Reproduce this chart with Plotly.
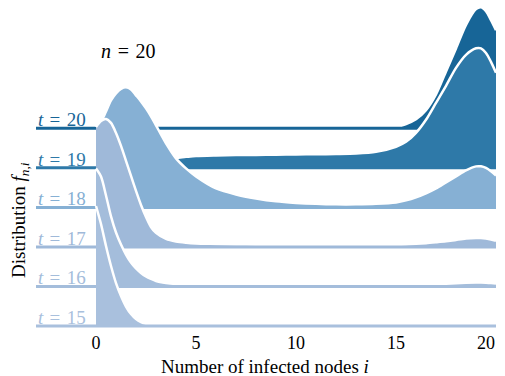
import plotly.graph_objects as go

# Number of infected nodes i (sampling grid)
i_grid = [0, 0.25, 0.5, 0.75, 1, 1.25, 1.5, 1.75, 2, 2.25, 2.5, 2.75, 3, 3.5, 4, 4.5, 5,
          6, 7, 8, 9, 10, 11, 12, 13, 14, 15, 15.5, 16, 16.5, 17, 17.5, 18, 18.5, 19,
          19.25, 19.5, 19.75, 20]

times = [20, 19, 18, 17, 16, 15]

# relative distribution f_{n,i} (scaled to common peak)
f_t20 = [0] * 26 + [0.010, 0.035, 0.075, 0.150, 0.280, 0.470, 0.660, 0.855, 0.985,
                    1.000, 0.967, 0.893, 0.810]
f_t19 = [0.066, 0.066, 0.066, 0.066, 0.066, 0.066, 0.066, 0.068, 0.069, 0.071, 0.073,
         0.074, 0.076, 0.079, 0.083, 0.091, 0.098, 0.103, 0.106, 0.107, 0.109, 0.111,
         0.112, 0.114, 0.118, 0.132, 0.174, 0.215, 0.289, 0.397, 0.537, 0.678, 0.826,
         0.934, 0.988, 0.988, 0.950, 0.876, 0.785]
f_t18 = [0.595, 0.702, 0.793, 0.884, 0.942, 0.979, 0.992, 0.975, 0.926, 0.876, 0.818,
         0.752, 0.678, 0.529, 0.405, 0.322, 0.256, 0.157, 0.107, 0.074, 0.050, 0.037,
         0.029, 0.025, 0.025, 0.029, 0.041, 0.058, 0.083, 0.116, 0.157, 0.207, 0.256,
         0.306, 0.339, 0.339, 0.326, 0.298, 0.264]
f_t17 = [0.992, 1.041, 1.058, 1.025, 0.942, 0.835, 0.711, 0.587, 0.463, 0.347, 0.248,
         0.165, 0.116, 0.066, 0.045, 0.035, 0.029, 0.025, 0.021, 0.018, 0.017, 0.017,
         0.017, 0.017, 0.017, 0.017, 0.018, 0.021, 0.026, 0.031, 0.038, 0.046, 0.058,
         0.069, 0.074, 0.074, 0.070, 0.062, 0.050]
f_t16 = [0.975, 0.909, 0.752, 0.579, 0.446, 0.347, 0.264, 0.198, 0.149, 0.112, 0.083,
         0.062, 0.045, 0.029, 0.021, 0.017, 0.013, 0.011, 0.010, 0.010, 0.010, 0.010,
         0.010, 0.010, 0.010, 0.010, 0.010, 0.011, 0.012, 0.015, 0.018, 0.023, 0.027,
         0.031, 0.033, 0.033, 0.031, 0.028, 0.025]
f_t15 = [0.992, 0.843, 0.661, 0.496, 0.355, 0.248, 0.161, 0.099, 0.058, 0.033, 0.019,
         0.011, 0.007, 0.002] + [0] * 25

series = {20: f_t20, 19: f_t19, 18: f_t18, 17: f_t17, 16: f_t16, 15: f_t15}
colors = {20: "#176597", 19: "#2e79a8", 18: "#86b0d4", 17: "#9fb9d9",
          16: "#a4bddb", 15: "#a9c0dd"}

x_ticks = [0, 5, 10, 15, 20]
x_min, x_max = -3, 20
ridge_scale = 3.06   # peak height in units of row spacing
FONT = "Liberation Serif"

# page has an 8px body margin: the figure is drawn from (8, 8)
PAGE_OFF = 8
W, H = 505 - PAGE_OFF, 376 - PAGE_OFF
ml, mr, mt, mb = 36 - PAGE_OFF, 9, 0, 46
row_px = 39.54
base_px = 326 - PAGE_OFF  # pixel row of t=15 baseline within figure
y_lo = (base_px - (H - mb)) / row_px
y_hi = (base_px - mt) / row_px
plot_h = H - mt - mb
plot_w = W - ml - mr


def px_to_paper(px, py):
    px -= PAGE_OFF
    py -= PAGE_OFF
    return (px - ml) / plot_w, (H - mb - py) / plot_h


fig = go.Figure()
for t in times:
    off = t - 15
    c = colors[t]
    fig.add_trace(go.Scatter(x=[0, 20], y=[off, off], mode="lines",
                             line=dict(width=0, color=c), hoverinfo="skip",
                             showlegend=False))
    fig.add_trace(go.Scatter(x=i_grid, y=[off + ridge_scale * v for v in series[t]],
                             mode="lines", fill="tonexty", fillcolor=c,
                             line=dict(color="white", width=2.5, shape="spline",
                                       smoothing=0.8),
                             hoverinfo="skip", showlegend=False))
    fig.add_trace(go.Scatter(x=[x_min, x_max], y=[off, off], mode="lines",
                             line=dict(color=c, width=3), hoverinfo="skip",
                             showlegend=False))
    fig.add_annotation(x=x_min, y=off, xref="x", yref="y", xanchor="left",
                       yanchor="bottom", yshift=-4, showarrow=False,
                       text=f"<i>t</i>\u2004=\u2004{t}",
                       font=dict(family=FONT, size=19, color=c))

ax, ay = px_to_paper(99, 51)
fig.add_annotation(x=ax, y=ay, xref="paper", yref="paper", xanchor="left",
                   yanchor="middle", showarrow=False, text="<i>n</i>\u2004=\u200420",
                   font=dict(family=FONT, size=20, color="black"))
ax, ay = px_to_paper(265, 366)
fig.add_annotation(x=ax, y=ay, xref="paper", yref="paper", xanchor="center",
                   yanchor="middle", showarrow=False,
                   text="Number of infected nodes <i>i</i>",
                   font=dict(family=FONT, size=19, color="black"))
ax, ay = px_to_paper(20, 220)
fig.add_annotation(x=ax, y=ay, xref="paper", yref="paper", xanchor="center",
                   yanchor="middle", showarrow=False, textangle=-90,
                   text="Distribution <i>f</i><sub><i>n,i</i></sub>",
                   font=dict(family=FONT, size=19, color="black"))

# the last tick label sits at the right window edge: keep it inside the view
_, ty = px_to_paper(0, 343)
fig.add_annotation(x=x_ticks[-1], y=ty, xref="x", yref="paper", xanchor="right",
                   yanchor="middle", xshift=1, showarrow=False,
                   text=str(x_ticks[-1]),
                   font=dict(family=FONT, size=18, color="black"))

fig.update_layout(
    width=W, height=H, margin=dict(l=ml, r=mr, t=mt, b=mb),
    paper_bgcolor="white", plot_bgcolor="white", hovermode=False,
    xaxis=dict(range=[x_min, x_max], tickvals=x_ticks[:-1], ticks="",
               showgrid=False, zeroline=False, showline=False,
               tickfont=dict(family=FONT, size=18, color="black")),
    yaxis=dict(range=[y_lo, y_hi], visible=False),
)
fig.write_html("out.html")
